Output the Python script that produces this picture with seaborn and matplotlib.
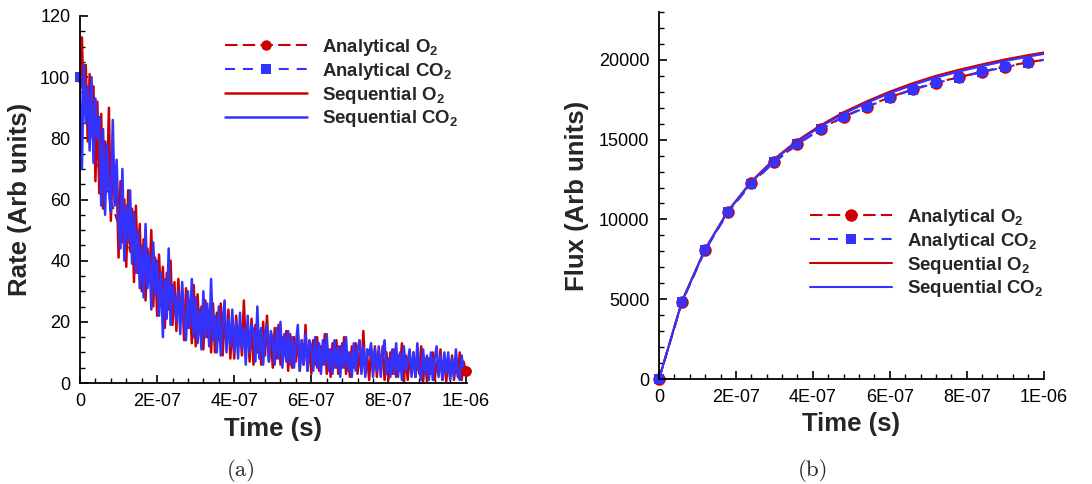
import numpy as np
import matplotlib
matplotlib.use("Agg")
import matplotlib.pyplot as plt
from matplotlib.ticker import MultipleLocator, FixedLocator, FixedFormatter
import seaborn as sns

# ---------------- data ----------------
rate_dt = 5e-9  # sampling step of the noisy rate traces
rate_seq_o2 = [
    100, 113, 88, 104, 79, 101, 84, 97, 66, 92,
    62, 88, 57, 79, 64, 90, 53, 74, 59, 68,
    41, 66, 46, 60, 38, 63, 43, 57, 33, 58,
    36, 52, 30, 47, 27, 44, 34, 50, 25, 41,
    22, 42, 27, 38, 18, 36, 24, 40, 19, 33,
    17, 34, 21, 30, 14, 31, 18, 27, 13, 32,
    12, 29, 16, 25, 11, 27, 15, 24, 10, 26,
    10, 23, 14, 26, 9, 21, 13, 24, 8, 20,
    8, 22, 12, 19, 9, 27, 11, 18, 7, 21,
    6, 19, 10, 17, 6, 20, 9, 22, 7, 16,
    5, 18, 8, 19, 6, 15, 9, 17, 4, 16,
    5, 15, 7, 16, 4, 14, 6, 19, 4, 13,
    3, 14, 6, 15, 4, 12, 6, 16, 3, 11,
    2, 13, 5, 14, 3, 12, 5, 15, 3, 10,
    2, 12, 5, 13, 3, 10, 4, 17, 3, 9,
    1, 11, 4, 12, 2, 10, 5, 12, 1, 10,
    1, 10, 3, 11, 2, 9, 4, 13, 0.5, 9,
    1, 9, 3, 10, 2, 8, 3, 12, 0.5, 8,
    0.5, 8, 3, 10, 1, 7, 3, 11, 1, 8,
    0.5, 8, 2, 9, 1, 7, 2, 10, 1, 7,
    4,
]
rate_seq_co2 = [
    100, 70, 104, 85, 97, 76, 100, 72, 93, 80,
    87, 58, 83, 55, 78, 63, 56, 86, 58, 73,
    52, 44, 70, 40, 58, 46, 63, 39, 56, 36,
    50, 31, 45, 28, 52, 31, 42, 24, 46, 29,
    40, 22, 36, 15, 34, 21, 44, 19, 32, 28,
    20, 30, 16, 33, 21, 14, 30, 18, 34, 15,
    28, 13, 24, 11, 30, 15, 26, 12, 34, 14,
    22, 10, 25, 9, 20, 27, 10, 21, 12, 24,
    10, 20, 8, 23, 11, 18, 6, 22, 10, 19,
    17, 7, 25, 8, 18, 6, 16, 19, 7, 17,
    14, 6, 18, 8, 20, 5, 16, 7, 17, 6,
    15, 5, 13, 19, 4, 14, 6, 16, 4, 14,
    12, 4, 15, 5, 13, 3, 14, 6, 16, 4,
    11, 3, 14, 5, 12, 2, 13, 5, 15, 4,
    10, 2, 13, 4, 11, 14, 3, 12, 2, 11,
    9, 13, 2, 11, 4, 12, 2, 10, 14, 3,
    8, 2, 11, 3, 13, 2, 10, 1, 12, 4,
    7, 11, 2, 10, 2, 13, 4, 1, 11, 3,
    9, 1, 10, 1, 8, 12, 2, 9, 1, 10,
    3, 10, 1, 8, 2, 11, 3, 1, 9, 3,
    5,
]
rate_time = [i * rate_dt for i in range(len(rate_seq_o2))]

rate_ana_time = [i * 5e-8 for i in range(21)]
rate_ana_o2 = [100, 70, 52, 38, 30, 24, 20, 17, 15, 13, 12, 10.5, 9, 8.2, 7.5, 6.8, 6, 5.5, 5, 4.6, 4.0]
rate_ana_co2 = [100, 70, 52, 38, 30, 24, 20, 17, 15, 13, 12, 10.5, 9, 8.2, 7.5, 6.8, 6, 5.5, 5, 4.6, 4.0]

flux_time = [k * 6e-8 for k in range(17)] + [1e-6]
flux_ana_o2 = [0, 4850, 8090, 10490, 12270, 13630, 14730, 15670, 16450, 17070,
               17660, 18160, 18580, 18910, 19270, 19580, 19850, 20000]
flux_ana_co2 = [0, 4830, 8070, 10470, 12240, 13600, 14700, 15640, 16420, 17040,
                17630, 18130, 18550, 18890, 19240, 19550, 19820, 20000]
flux_seq_o2 = [0, 4900, 8150, 10560, 12380, 13800, 14950, 15900, 16720, 17400,
               18010, 18540, 19000, 19380, 19720, 20030, 20300, 20460]
flux_seq_co2 = [0, 4880, 8130, 10530, 12340, 13740, 14880, 15820, 16630, 17300,
                17910, 18430, 18890, 19270, 19610, 19930, 20200, 20370]

x_ticks = [0, 2e-7, 4e-7, 6e-7, 8e-7, 1e-6]
x_tick_labels = ["0", "2E-07", "4E-07", "6E-07", "8E-07", "1E-06"]
legend_labels = ["Analytical O$_2$", "Analytical CO$_2$", "Sequential O$_2$", "Sequential CO$_2$"]

# ---------------- style ----------------
sns.set_style("ticks")
plt.rcParams["font.family"] = ["Liberation Sans", "DejaVu Sans"]
plt.rcParams["mathtext.fontset"] = "custom"
plt.rcParams["mathtext.rm"] = "Liberation Sans:bold"
plt.rcParams["mathtext.it"] = "Liberation Sans:bold"
plt.rcParams["mathtext.bf"] = "Liberation Sans:bold"

RED = "#cc0000"
BLUE = "#3333ff"
red_dash = (0, (6, 2.5))
blue_dash = (0, (4.8, 3.8))

fig = plt.figure(figsize=(10.92, 4.84), dpi=100)
W, H = 1092, 484
axL = fig.add_axes([80 / W, 1 - 383 / H, (466.7 - 80) / W, (383 - 16) / H])
axR = fig.add_axes([659 / W, 1 - 379 / H, (1044 - 659) / W, (379 - 12) / H])


def style_axis(ax):
    sns.despine(ax=ax)
    for s in ("left", "bottom"):
        ax.spines[s].set_linewidth(1.3)
        ax.spines[s].set_color("black")
    ax.tick_params(which="both", direction="in", colors="black", labelsize=13)
    ax.tick_params(which="major", length=6, width=1.2)
    ax.tick_params(which="minor", length=3.5, width=1.0)
    ax.tick_params(axis="x", pad=7)
    ax.tick_params(axis="y", pad=7)
    ax.xaxis.set_major_locator(FixedLocator(x_ticks))
    ax.xaxis.set_major_formatter(FixedFormatter(x_tick_labels))
    ax.xaxis.set_minor_locator(MultipleLocator(4e-8))
    ax.grid(False)


# ---------- left: rate ----------
nL = len(rate_ana_time)
sns.lineplot(x=rate_ana_time, y=rate_ana_o2, ax=axL, color=RED, lw=1.5, linestyle=red_dash,
             marker="o", markersize=7.5, markeredgecolor=RED, markeredgewidth=0,
             markevery=[0, nL - 1], sort=False, estimator=None, label=legend_labels[0], clip_on=False)
sns.lineplot(x=rate_ana_time, y=rate_ana_co2, ax=axL, color=BLUE, lw=1.5, linestyle=blue_dash,
             marker="s", markersize=6.5, markeredgecolor=BLUE, markeredgewidth=0,
             markevery=[0], sort=False, estimator=None, label=legend_labels[1], clip_on=False)
sns.lineplot(x=rate_time, y=rate_seq_o2, ax=axL, color=RED, lw=1.8, sort=False,
             estimator=None, label=legend_labels[2])
sns.lineplot(x=rate_time, y=rate_seq_co2, ax=axL, color=BLUE, lw=1.8, sort=False,
             estimator=None, label=legend_labels[3])
# keep end markers visible above the noisy traces
axL.plot([rate_ana_time[-1]], [rate_ana_o2[-1]], "o", color=RED, ms=7.5, mew=0, clip_on=False, zorder=5)
axL.plot([rate_ana_time[0]], [rate_ana_o2[0]], "o", color=RED, ms=7.5, mew=0, clip_on=False, zorder=1.5)

axL.set_xlim(0, 1.003e-6)
axL.set_ylim(0, 120)
axL.yaxis.set_major_locator(MultipleLocator(20))
axL.yaxis.set_minor_locator(MultipleLocator(5))
style_axis(axL)
axL.set_xlabel("Time (s)", fontsize=18.5, fontweight="bold")
axL.set_ylabel("Rate (Arb units)", fontsize=18.5, fontweight="bold")
axL.xaxis.set_label_coords(0.5, -0.093)
axL.yaxis.set_label_coords(-0.124, 0.5)
legL = axL.legend(loc="upper left", bbox_to_anchor=(225 / W, 1 - 37 / H),
                  bbox_transform=fig.transFigure, frameon=False, prop={"size": 13.4, "weight": "bold"},
                  handlelength=4.4, handletextpad=0.8, labelspacing=0.15, borderpad=0, borderaxespad=0)

# ---------- right: flux ----------
sns.lineplot(x=flux_time, y=flux_ana_o2, ax=axR, color=RED, lw=1.5, linestyle=red_dash,
             marker="o", markersize=9, markeredgecolor=RED, markeredgewidth=0,
             markevery=list(range(17)), sort=False, estimator=None, label=legend_labels[0], clip_on=False)
sns.lineplot(x=flux_time, y=flux_ana_co2, ax=axR, color=BLUE, lw=1.5, linestyle=blue_dash,
             marker="s", markersize=7.5, markeredgecolor=BLUE, markeredgewidth=0,
             markevery=list(range(17)), sort=False, estimator=None, label=legend_labels[1], clip_on=False)
sns.lineplot(x=flux_time, y=flux_seq_o2, ax=axR, color=RED, lw=1.5, sort=False,
             estimator=None, label=legend_labels[2])
sns.lineplot(x=flux_time, y=flux_seq_co2, ax=axR, color=BLUE, lw=1.5, sort=False,
             estimator=None, label=legend_labels[3])
axR.set_xlim(0, 1.001e-6)
axR.set_ylim(0, 23000)
axR.yaxis.set_major_locator(MultipleLocator(5000))
axR.yaxis.set_minor_locator(MultipleLocator(1000))
style_axis(axR)
axR.set_xlabel("Time (s)", fontsize=18.5, fontweight="bold")
axR.set_ylabel("Flux (Arb units)", fontsize=18.5, fontweight="bold")
axR.xaxis.set_label_coords(0.5, -0.09)
axR.yaxis.set_label_coords(-0.182, 0.5)
legR = axR.legend(loc="upper left", bbox_to_anchor=(810 / W, 1 - 207 / H),
                  bbox_transform=fig.transFigure, frameon=False, prop={"size": 13.4, "weight": "bold"},
                  handlelength=4.4, handletextpad=0.8, labelspacing=0.15, borderpad=0, borderaxespad=0)

fig.text(241 / W, 1 - 470 / H, "(a)", ha="center", va="center", fontsize=16.5, family="cmr10")
fig.text(813 / W, 1 - 470 / H, "(b)", ha="center", va="center", fontsize=16.5, family="cmr10")

fig.savefig("out.png", dpi=100)
